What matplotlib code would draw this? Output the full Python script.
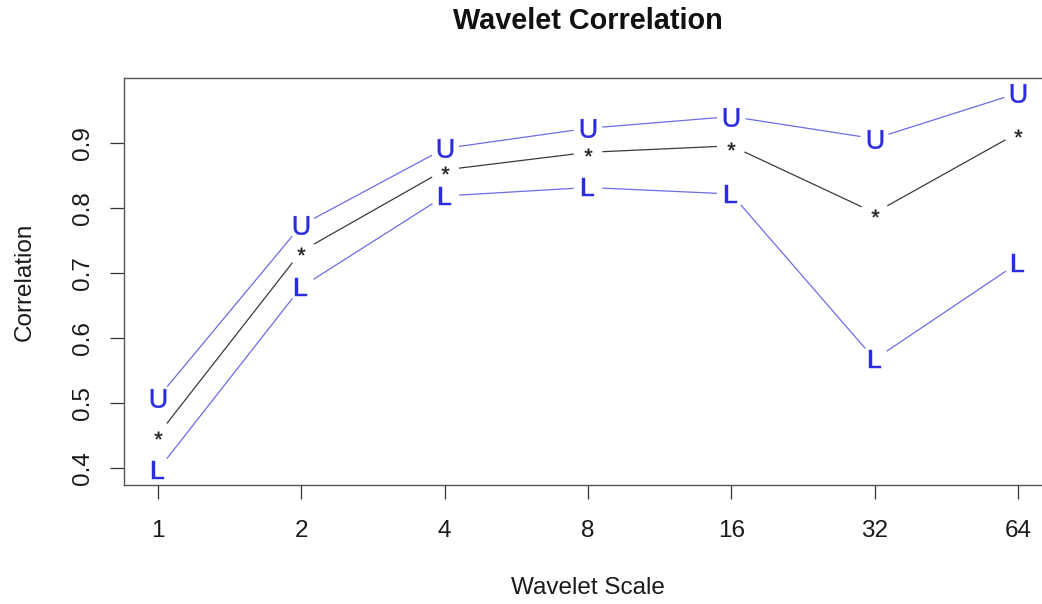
import numpy as np
import matplotlib
matplotlib.use("Agg")
import matplotlib.pyplot as plt

plt.rcParams['font.family'] = ['Liberation Sans', 'DejaVu Sans']
plt.rcParams['mathtext.fontset'] = 'custom'
plt.rcParams['mathtext.rm'] = 'Liberation Sans'

# wavelet correlation per scale with upper / lower confidence bounds
scales = [1, 2, 4, 8, 16, 32, 64]
upper = [0.508, 0.773, 0.891, 0.922, 0.940, 0.906, 0.976]
corr = [0.451, 0.733, 0.858, 0.885, 0.895, 0.792, 0.915]
lower = [0.397, 0.678, 0.818, 0.831, 0.821, 0.567, 0.715]

blue_txt = '#2b2be0'
blue_line = '#6c6ce8'
black_line = '#3a3a3a'

fig = plt.figure(figsize=(10.42, 6.04), dpi=100)
ax = fig.add_axes([0.1186, 0.197, 0.8914, 0.6738])

xs = np.arange(1, len(scales) + 1)
lo, hi = min(lower), max(upper)
pad = 0.04 * (hi - lo)
ax.set_xlim(1 - 0.04 * (len(xs) - 1), len(xs) + 0.04 * (len(xs) - 1))
ax.set_ylim(lo - pad, hi + pad)


def gapped(xv, yv, gap, **kw):
    # connect points like type="b": segments stop short of each symbol
    pts = ax.transData.transform(np.column_stack([xv, yv]))
    inv = ax.transData.inverted()
    for p, q in zip(pts[:-1], pts[1:]):
        d = q - p
        u = d / np.hypot(*d)
        seg = inv.transform(np.array([p + u * gap, q - u * gap]))
        ax.plot(seg[:, 0], seg[:, 1], **kw)


gapped(xs, upper, 15, color=blue_line, lw=0.9)
gapped(xs, corr, 15, color=black_line, lw=0.9)
gapped(xs, lower, 15, color=blue_line, lw=0.9)

ax.plot(xs, upper, ls='none', marker=r'$\mathrm{U}$', ms=13.5, mew=0.3, color=blue_txt)
ax.plot(xs, lower, ls='none', marker=r'$\mathrm{L}$', ms=13.5, mew=0.3, color=blue_txt)
ax.plot(xs, corr, ls='none', marker=r'$*$', ms=5.5, mew=0.3, color='#222222')

for side in ['top', 'bottom', 'left']:
    ax.spines[side].set_color('#555555')
    ax.spines[side].set_linewidth(1.0)
ax.spines['right'].set_visible(False)

ax.set_xticks(xs, [str(s) for s in scales])
ax.set_yticks([0.4, 0.5, 0.6, 0.7, 0.8, 0.9])
ax.set_yticklabels(['0.4', '0.5', '0.6', '0.7', '0.8', '0.9'], rotation=90, va='center')
ax.tick_params(axis='both', direction='out', length=10, width=0.9, color='#333333',
               labelsize=17.5, labelcolor='#1a1a1a')
ax.tick_params(axis='x', pad=15)
ax.tick_params(axis='y', pad=11)

xc = (ax.get_position().x0 + ax.get_position().x1) / 2
fig.text(xc, 0.965, 'Wavelet Correlation', ha='center', va='center',
         fontsize=20.8, fontweight='bold', color='#111111')
fig.text(xc, 0.0265, 'Wavelet Scale', ha='center', va='center', fontsize=17.5, color='#1a1a1a')
fig.text(0.024, 0.534, 'Correlation', ha='center', va='center', rotation=90,
         fontsize=17.5, color='#1a1a1a')

fig.savefig('out.png', dpi=100)
